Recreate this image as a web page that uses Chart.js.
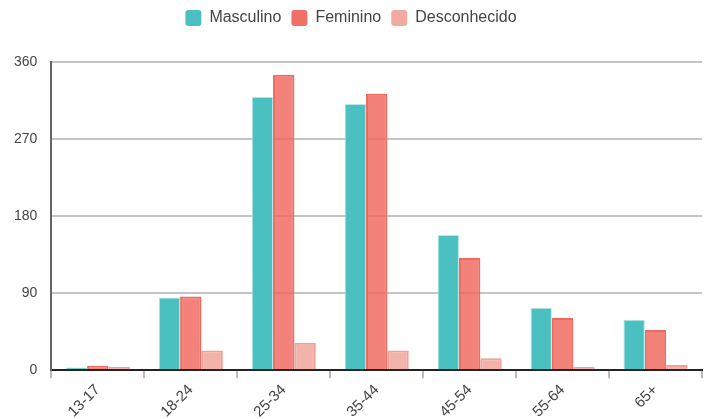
<!DOCTYPE html>
<html>
<head>
<meta charset="utf-8">
<script src="https://cdn.jsdelivr.net/npm/chart.js@4/dist/chart.umd.min.js"></script>
<style>
  html, body { margin: 0; padding: 0; background: #fff; }
  #wrap { width: 711px; height: 419px; }
</style>
</head>
<body>
<div id="wrap"><canvas id="faixaEtaria"></canvas></div>
<script>
// faixas etárias e totais por gênero
const faixas = ["13-17", "18-24", "25-34", "35-44", "45-54", "55-64", "65+"];
const masculino = [3, 85, 319, 311, 158, 73, 59];
const feminino = [5, 86, 345, 323, 131, 61, 47];
const desconhecido = [4, 23, 32, 23, 14, 4, 6];
const yTicks = [0, 90, 180, 270, 360];

// cores sólidas usadas nos quadradinhos da legenda
const corLegenda = ["rgb(75,192,192)", "rgb(240,112,103)", "rgb(243,170,163)"];

// espaço extra entre a legenda e a área do gráfico
const legendaEspaco = {
  id: "legendaEspaco",
  beforeInit(chart) {
    const fitOriginal = chart.legend.fit;
    chart.legend.fit = function () {
      fitOriginal.bind(chart.legend)();
      this.height += 26;
    };
  }
};

document.addEventListener("DOMContentLoaded", function () {
  Chart.defaults.font.family = "'Liberation Sans', Arial, sans-serif";
  Chart.defaults.color = "#444";

  new Chart(document.getElementById("faixaEtaria").getContext("2d"), {
    type: "bar",
    data: {
      labels: faixas,
      datasets: [
        {
          label: "Masculino",
          data: masculino,
          backgroundColor: "rgb(75,192,192)",
          borderColor: "rgba(180,232,232,1)",
          borderWidth: 1
        },
        {
          label: "Feminino",
          data: feminino,
          backgroundColor: "rgba(240,105,95,0.83)",
          borderColor: "rgb(240,105,95)",
          borderWidth: 2
        },
        {
          label: "Desconhecido",
          data: desconhecido,
          backgroundColor: "rgba(240,160,150,0.8)",
          borderColor: "rgb(240,160,150)",
          borderWidth: 2
        }
      ]
    },
    plugins: [legendaEspaco],
    options: {
      responsive: true,
      maintainAspectRatio: false,
      animation: false,
      layout: { padding: { top: 0, right: 9, left: 0, bottom: -5 } },
      datasets: { bar: { categoryPercentage: 0.69, barPercentage: 1 } },
      plugins: {
        legend: {
          position: "top",
          labels: {
            font: { size: 16 },
            color: "#444",
            boxWidth: 16,
            boxHeight: 16,
            useBorderRadius: true,
            borderRadius: 3,
            padding: 10,
            generateLabels: function (chart) {
              return chart.data.datasets.map((ds, i) => ({
                text: ds.label,
                fillStyle: corLegenda[i],
                strokeStyle: corLegenda[i],
                lineWidth: 0,
                hidden: !chart.isDatasetVisible(i),
                datasetIndex: i,
                fontColor: "#444",
                borderRadius: 3
              }));
            }
          }
        },
        tooltip: { enabled: false }
      },
      scales: {
        x: {
          grid: {
            drawOnChartArea: false,
            color: "#bbb",
            lineWidth: 2,
            tickLength: 8
          },
          border: { color: "#222", width: 2 },
          ticks: {
            font: { size: 15 },
            color: "#444",
            maxRotation: 45,
            minRotation: 45
          }
        },
        y: {
          min: 0,
          max: 360,
          afterBuildTicks: function (axis) {
            axis.ticks = yTicks.map(v => ({ value: v }));
          },
          grid: {
            color: "#c4c4c4",
            lineWidth: 2,
            drawTicks: false
          },
          border: { color: "#666", width: 2 },
          ticks: {
            font: { size: 14 },
            color: "#444",
            padding: 14
          }
        }
      }
    }
  });
});
</script>
</body>
</html>
